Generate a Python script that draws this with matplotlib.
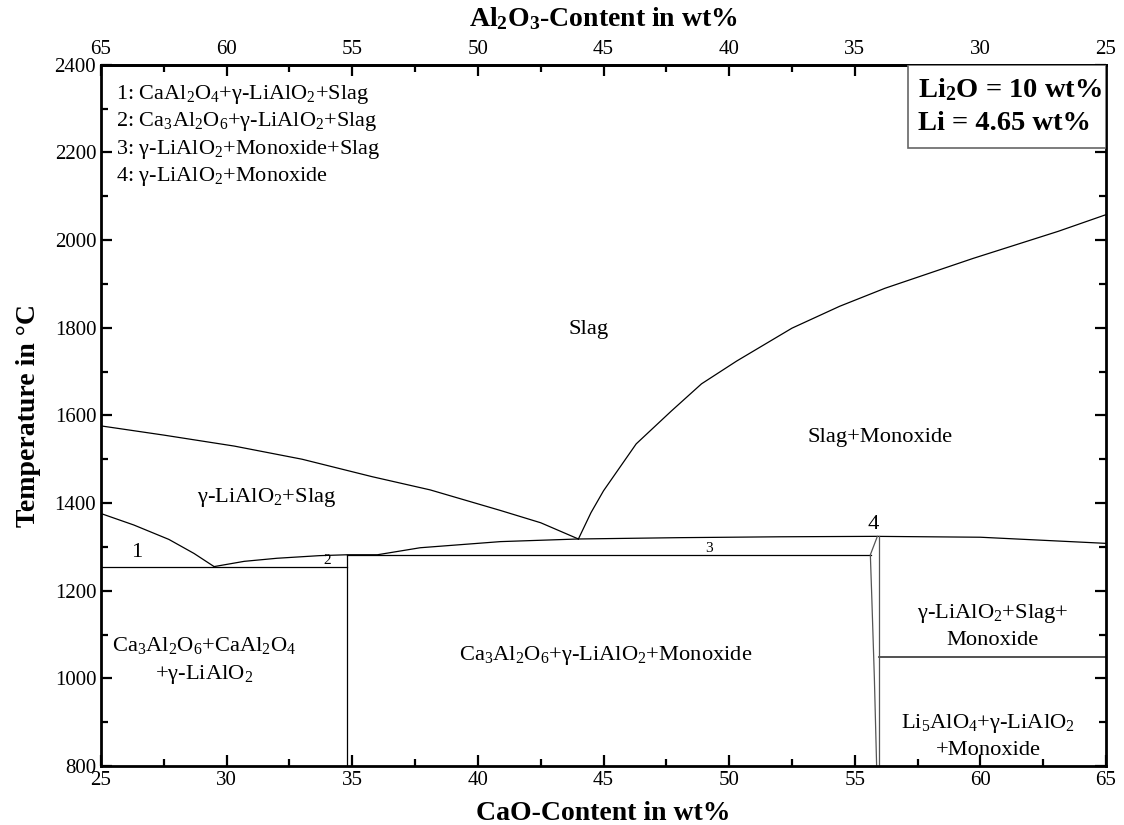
import numpy as np
import matplotlib.pyplot as plt
from matplotlib.ticker import MultipleLocator
from matplotlib.patches import Rectangle

plt.rcParams['font.family'] = ['Liberation Serif', 'DejaVu Serif']
plt.rcParams['mathtext.fontset'] = 'custom'
plt.rcParams['mathtext.rm'] = 'Liberation Serif'
plt.rcParams['mathtext.it'] = 'Liberation Serif:italic'
plt.rcParams['mathtext.bf'] = 'Liberation Serif:bold'

# phase boundaries (CaO wt%, T in degC)
liq_left_x = [25, 27.5, 30.3, 33, 35.8, 38.1, 40.9, 42.5, 44.0]
liq_left_t = [1576, 1555, 1530, 1500, 1460, 1430, 1383, 1355, 1318]

liq_right_x = [44.0, 44.5, 45.0, 46.3, 47.7, 48.9, 50.3, 52.5, 54.4, 56.2, 59.7, 63.1, 65]
liq_right_t = [1318, 1378, 1428, 1535, 1610, 1672, 1724, 1799, 1849, 1890, 1958, 2020, 2058]

solvus_x = [25, 26.3, 27.7, 28.7, 29.5]
solvus_t = [1376, 1350, 1317, 1285, 1255]

three_x = [29.5, 30.7, 32, 33.7, 34.8, 36.0, 37.7, 40.9, 44.0, 48, 52, 55.8, 60, 65]
three_t = [1255, 1267, 1274, 1280, 1282, 1282, 1298, 1312, 1318, 1321, 1323, 1324, 1322, 1308]

lens_left_x = [55.9, 55.62, 55.68, 55.78, 55.87]
lens_left_t = [1324, 1282, 1180, 1000, 800]
lens_right_x = [55.95, 55.95]
lens_right_t = [1324, 800]

iso1 = ([25, 34.8], 1255)
iso2 = ([34.8, 55.65], 1282)
iso3 = ([55.95, 65], 1048)
vert1 = (34.8, [800, 1282])

legend_lines = [
    r'1: CaAl$_2$O$_4$+γ-LiAlO$_2$+Slag',
    r'2: Ca$_3$Al$_2$O$_6$+γ-LiAlO$_2$+Slag',
    r'3: γ-LiAlO$_2$+Monoxide+Slag',
    r'4: γ-LiAlO$_2$+Monoxide',
]

fig = plt.figure(figsize=(11.24, 8.25), dpi=100)
ax = fig.add_axes([0.0899, 0.0715, 0.8941, 0.850])

kw = dict(color='black', lw=0.9)
ax.plot(liq_left_x, liq_left_t, **kw)
ax.plot(liq_right_x, liq_right_t, **kw)
ax.plot(solvus_x, solvus_t, **kw)
ax.plot(three_x, three_t, **kw)
ax.plot(iso1[0], [iso1[1]] * 2, **kw)
ax.plot(iso2[0], [iso2[1]] * 2, **kw)
ax.plot(iso3[0], [iso3[1]] * 2, color='#333333', lw=1.2)
ax.plot([vert1[0]] * 2, vert1[1], **kw)
ax.plot(lens_left_x, lens_left_t, color='#555555', lw=0.9)
ax.plot(lens_right_x, lens_right_t, color='#555555', lw=0.9)

ax.set_xlim(25, 65)
ax.set_ylim(800, 2400)
ax.xaxis.set_major_locator(MultipleLocator(5))
ax.xaxis.set_minor_locator(MultipleLocator(2.5))
ax.yaxis.set_major_locator(MultipleLocator(200))
ax.yaxis.set_minor_locator(MultipleLocator(100))
ax.tick_params(which='both', direction='in', right=True, labelsize=15, width=1.6)
ax.tick_params(which='major', length=8)
ax.tick_params(which='minor', length=5)
for s in ax.spines.values():
    s.set_linewidth(2)

sec = ax.secondary_xaxis('top', functions=(lambda x: 90 - x, lambda x: 90 - x))
sec.xaxis.set_major_locator(MultipleLocator(5))
sec.xaxis.set_minor_locator(MultipleLocator(2.5))
sec.tick_params(which='both', direction='in', labelsize=15, width=1.6, pad=4)
sec.tick_params(which='major', length=8)
sec.tick_params(which='minor', length=5)
sec.spines['top'].set_linewidth(2)
sec.set_xlabel(r'Al$_\mathbf{2}$O$_\mathbf{3}$-Content in wt%', fontsize=20,
               fontweight='bold', labelpad=10)

ax.set_xlabel('CaO-Content in wt%', fontsize=20, fontweight='bold', labelpad=8)
ax.set_ylabel('Temperature in °C', fontsize=20, fontweight='bold', labelpad=10)

for i, line in enumerate(legend_lines):
    ax.text(0.015, 0.958 - i * 0.0393, line, transform=ax.transAxes, fontsize=16,
            va='center', ha='left')

# info box in the top right corner
ax.add_patch(Rectangle((0.803, 0.882), 0.197, 0.118, transform=ax.transAxes,
                       facecolor='white', edgecolor='#666666', lw=1.2, zorder=3))
ax.text(0.813, 0.964, 'Li$_\\mathbf{2}$O = 10 wt%', transform=ax.transAxes,
        fontsize=20.5, fontweight='bold', ha='left', va='center', zorder=4)
ax.text(0.813, 0.916, 'Li = 4.65 wt%', transform=ax.transAxes,
        fontsize=20.5, fontweight='bold', ha='left', va='center', zorder=4)

fs = 16.2
ax.text(44.4, 1797, 'Slag', fontsize=fs, ha='center', va='center')
ax.text(56.0, 1549, 'Slag+Monoxide', fontsize=fs, ha='center', va='center')
ax.text(31.6, 1412, r'γ-LiAlO$_2$+Slag', fontsize=fs, ha='center', va='center')
ax.text(26.4, 1287, '1', fontsize=fs, ha='center', va='center')
ax.text(34.0, 1268, '2', fontsize=11, ha='center', va='center')
ax.text(49.2, 1297, '3', fontsize=11, ha='center', va='center')
ax.text(55.75, 1350, '4', fontsize=fs, ha='center', va='center')
ax.text(29.1, 1041, 'Ca$_3$Al$_2$O$_6$+CaAl$_2$O$_4$\n+γ-LiAlO$_2$', fontsize=fs,
        ha='center', va='center', linespacing=1.4)
ax.text(45.1, 1053, r'Ca$_3$Al$_2$O$_6$+γ-LiAlO$_2$+Monoxide', fontsize=fs,
        ha='center', va='center')
ax.text(60.5, 1120, 'γ-LiAlO$_2$+Slag+\nMonoxide', fontsize=fs, ha='center',
        va='center', linespacing=1.4)
ax.text(60.3, 868, 'Li$_5$AlO$_4$+γ-LiAlO$_2$\n+Monoxide', fontsize=fs, ha='center',
        va='center', linespacing=1.4)

fig.savefig('out.png', dpi=100)
